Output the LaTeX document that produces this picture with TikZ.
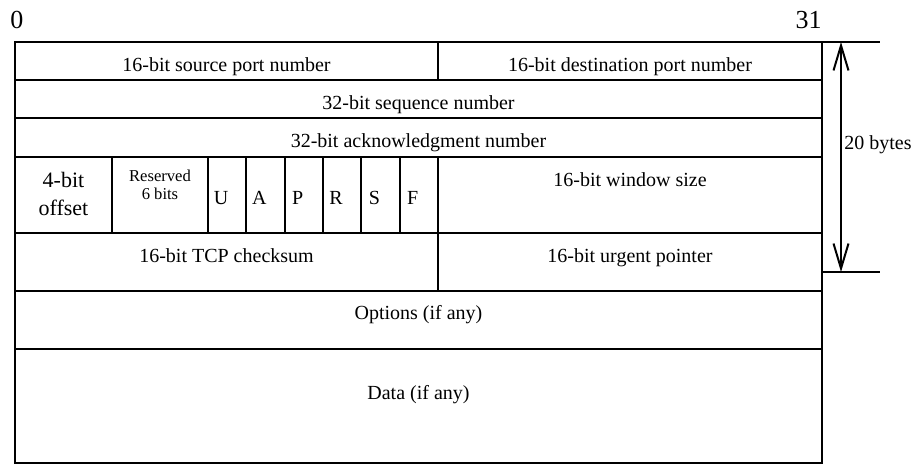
\documentclass[tikz,border=0pt]{standalone}
\usepackage{fontspec}
\setmainfont{Liberation Serif}
\usepackage{tikz}
\usetikzlibrary{arrows.meta,positioning}

\begin{document}
\begin{tikzpicture}[
            x=0.5pt, y=-0.5pt,
            font=\fontsize{10}{12}\selectfont,
            field/.style={draw, line width=1pt, anchor=north west,
            inner sep=0pt, outer sep=0pt, minimum height=19pt},
            txt/.style={anchor=base, inner sep=0pt},
            bitno/.style={anchor=base, inner sep=0pt, font=\fontsize{13}{15}\selectfont},
            size/.style={>={Straight Barb[length=12.5pt, width=7.5pt]}, <->, line width=1pt},
            ext/.style={line width=0.8pt}
        ]
\useasboundingbox (0,0) rectangle (917,464);
% bit numbers
            \node[bitno]                                      (b0)   at (17,29)   {0};
            \node[bitno, anchor=base east]                    (b31)  at (822,29)  {31};
% rows 1-3: ports, sequence, acknowledgment
            \node[field, minimum width=211.5pt]               (src)  at (15,42)   {};
            \node[field, minimum width=192pt]                 (dst)  at (438,42)  {};
            \node[field, minimum width=403.5pt]               (seq)  at (15,80)   {};
            \node[field, minimum width=403.5pt, minimum height=19.5pt] (ack) at (15,118) {};
            \node[txt]  (srcT) at (226.5,72)  {16-bit source port number};
            \node[txt]  (dstT) at (630,72)    {16-bit destination port number};
            \node[txt]  (seqT) at (418.5,110) {32-bit sequence number};
            \node[txt]  (ackT) at (418.5,148) {32-bit acknowledgment number};
% row 4: offset, reserved, flags, window
            \node[field, minimum width=48.5pt, minimum height=38pt] (off) at (15,157)  {};
            \node[field, minimum width=48pt, minimum height=38pt]   (rsv) at (112,157) {};
            \foreach \f [count=\i] in {U,A,P,R,S,F}{
                \node[field, minimum width=19.17pt, minimum height=38pt] (f\f) at ({208+(\i-1)*38.33},157) {};
                \node[txt] (t\f) at ({221+(\i-1)*38.33},205) {\f};
            }
            \node[field, minimum width=192pt, minimum height=38pt]  (win) at (438,157) {};
            \node[align=center, inner sep=0pt, font=\fontsize{11}{14}\selectfont] (offT) at (63.5,193.5) {4-bit\\offset};
            \node[align=center, inner sep=0pt, font=\fontsize{8.3}{9}\selectfont] (rsvT) at (160,185) {Reserved\\6 bits};
            \node[txt]  (winT) at (630,187)   {16-bit window size};
% row 5: checksum, urgent pointer
            \node[field, minimum width=211.5pt, minimum height=29pt] (chk) at (15,233)  {};
            \node[field, minimum width=192pt, minimum height=29pt]   (urg) at (438,233) {};
            \node[txt]  (chkT) at (226.5,263) {16-bit TCP checksum};
            \node[txt]  (urgT) at (630,263)   {16-bit urgent pointer};
% options and data
            \node[field, minimum width=403.5pt, minimum height=29pt] (opt)  at (15,291) {};
            \node[field, minimum width=403.5pt, minimum height=57pt] (data) at (15,349) {};
            \node[txt]  (optT)  at (418.5,320) {Options (if any)};
            \node[txt]  (dataT) at (418.5,400) {Data (if any)};
% header size
            \coordinate (topEnd)   at (880,42);
            \coordinate (botStart) at (822,272);
            \coordinate (botEnd)   at (880,272);
            \coordinate (szTop)    at (841,42);
            \coordinate (szBot)    at (841,272);
            \draw[ext] (dst.north east) -- (topEnd);
            \draw[ext] (botStart) -- (botEnd);
            \draw[size] (szBot) -- (szTop);
            \node[txt, anchor=base west] (szT) at (844,150) {20 bytes};
        \end{tikzpicture}
\end{document}
